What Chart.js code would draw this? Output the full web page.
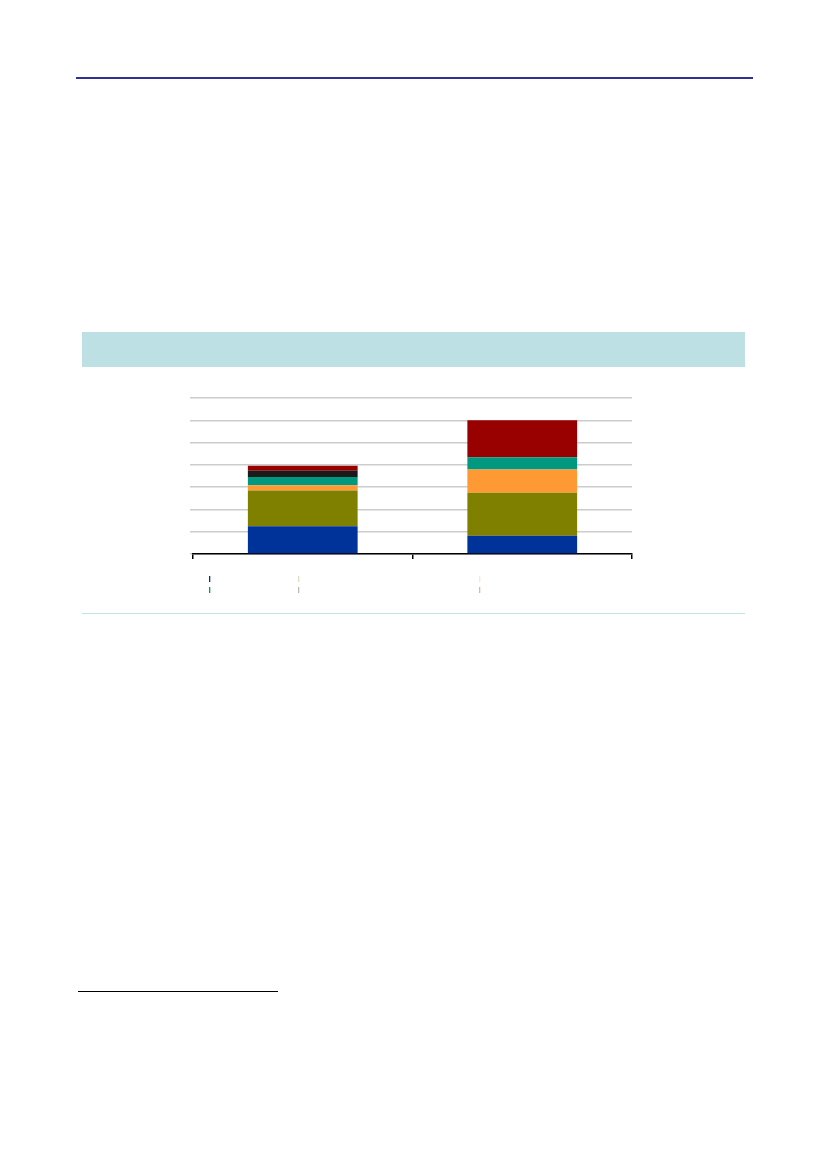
<!DOCTYPE html>
<html>
<head>
<meta charset="utf-8">
<script src="https://cdn.jsdelivr.net/npm/chart.js@4"></script>
<style>
  html, body { margin: 0; padding: 0; background: #fff; }
  body { width: 827px; height: 1169px; position: relative; overflow: hidden; font-family: "Liberation Sans", Arial, sans-serif; }
  .topline { position: absolute; left: 76px; top: 76.5px; width: 677px; height: 2.5px; background: #2e3192; }
  .band { position: absolute; left: 82px; top: 332px; width: 663px; height: 35px; background: #bce0e3; }
  .bottomline { position: absolute; left: 82px; top: 612.5px; width: 663px; height: 1.5px; background: #bfe3e6; }
  .footline { position: absolute; left: 78px; top: 990.5px; width: 200px; height: 1.2px; background: #000; }
  #wrap { position: absolute; left: 150px; top: 380px; width: 530px; height: 230px; }
</style>
</head>
<body>
<div class="topline"></div>
<div class="band"></div>
<div class="bottomline"></div>
<div class="footline"></div>
<div id="wrap"><canvas id="c"></canvas></div>
<script>
// Data (text is not legible in the reference)
const categories = ["A", "B"];
const seriesNames = ["Series 1", "Series 2", "Series 3", "Series 4", "Series 5", "Series 6"];
const series1 = [1.24, 0.82];
const series2 = [1.61, 1.93];
const series3 = [0.24, 1.04];
const series4 = [0.36, 0.55];
const series5 = [0.29, 0.0];
const series6 = [0.22, 1.66];
const seriesColors = ["#003399", "#808000", "#ff9933", "#009980", "#1a1a1a", "#990000"];
const yTicks = [0, 1, 2, 3, 4, 5, 6, 7];

const allSeries = [series1, series2, series3, series4, series5, series6];

// legend layout: 2 rows x 3 columns, order by row
const legendOrder = [[0, 1, 2], [3, 4, 5]];
const legendColX = [209, 298, 479];   // page x
const legendRowY = [579, 590];        // page y (centre)
const legendAlpha = [[1, 0.25, 0.25], [1, 0.3, 0.3]];

const legendPlugin = {
  id: 'miniLegend',
  afterDraw(chart) {
    const ctx = chart.ctx;
    const wrap = document.getElementById('wrap');
    const ox = wrap.offsetLeft, oy = wrap.offsetTop;
    ctx.save();
    legendOrder.forEach((row, r) => {
      row.forEach((idx, c) => {
        const ds = chart.data.datasets[idx];
        ctx.globalAlpha = legendAlpha[r][c];
        ctx.fillStyle = ds.backgroundColor;
        ctx.fillRect(legendColX[c] - ox, legendRowY[r] - 3 - oy, 1.3, 6);
      });
    });
    ctx.restore();
  }
};

new Chart(document.getElementById('c'), {
  type: 'bar',
  data: {
    labels: categories,
    datasets: allSeries.map((vals, i) => ({
      label: seriesNames[i],
      data: vals,
      backgroundColor: seriesColors[i],
      borderWidth: 0,
      barPercentage: 0.5,
      categoryPercentage: 1.0
    }))
  },
  options: {
    responsive: true,
    maintainAspectRatio: false,
    animation: false,
    layout: { padding: { left: 40, right: 48, top: 18, bottom: 48 } },
    plugins: { legend: { display: false }, tooltip: { enabled: false }, title: { display: false } },
    scales: {
      x: {
        stacked: true,
        offset: true,
        grid: { display: true, offset: true, drawOnChartArea: false, drawTicks: true, tickLength: 5, color: '#000', lineWidth: 1.5 },
        border: { display: true, color: '#000', width: 1.5 },
        ticks: { display: false },
        afterFit(s) { s.height = 8; }
      },
      y: {
        stacked: true,
        min: yTicks[0],
        max: yTicks[yTicks.length - 1],
        afterBuildTicks(s) { s.ticks = yTicks.map(v => ({ value: v })); },
        grid: { color: '#cccccc', lineWidth: 1.5, drawTicks: true, tickLength: 3 },
        border: { display: false },
        ticks: { display: false },
        afterFit(s) { s.width = 3; }
      }
    }
  },
  plugins: [legendPlugin]
});
</script>
</body>
</html>
